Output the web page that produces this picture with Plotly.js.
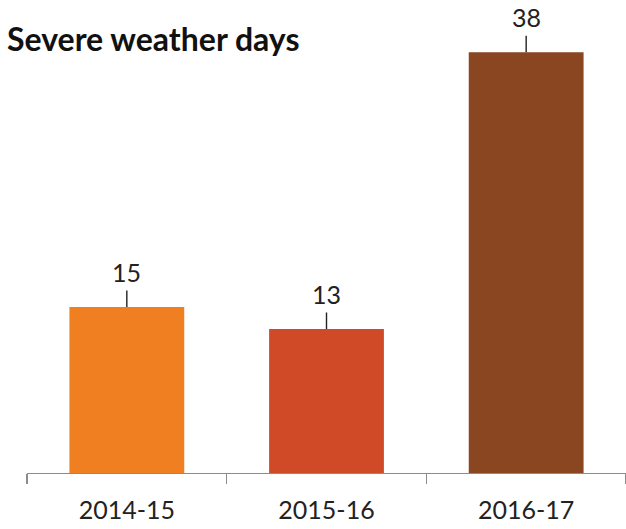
<!DOCTYPE html>
<html>
<head>
<meta charset="utf-8">
<script src="https://cdn.plot.ly/plotly-3.0.1.min.js"></script>
<style>html,body{margin:0;padding:0;background:#fff;}#chart{width:626px;height:529px;}</style>
</head>
<body>
<div id="chart"></div>
<script>
const categories = ["2014-15", "2015-16", "2016-17"];
const values = [15, 13, 38];
const barColors = ["#F07F22", "#D04A27", "#8A4521"];
const chartTitle = "Severe weather days";

const trace = {
  type: "bar",
  x: categories,
  y: values,
  marker: {color: barColors, line: {width: 0}},
  hoverinfo: "none"
};

const annotations = categories.map((c, i) => ({
  x: c, y: values[i], xref: "x", yref: "y",
  text: String(values[i]),
  showarrow: true, arrowhead: 0, arrowwidth: 1.4, arrowcolor: "#222",
  ax: 0, ay: -35, standoff: 0, borderpad: 3,
  font: {family: "Lato, 'Open Sans', sans-serif", size: 25, color: "#222"}
}));
annotations.push({
  xref: "paper", yref: "paper", x: -0.037, y: 0.98, xanchor: "left", yanchor: "middle",
  text: "<b>" + chartTitle + "</b>", showarrow: false,
  font: {family: "Lato, 'Open Sans', sans-serif", size: 32, color: "#111"}
});

const layout = {
  width: 626, height: 529,
  margin: {l: 27, r: 0, t: 30, b: 56},
  paper_bgcolor: "#fff", plot_bgcolor: "#fff",
  showlegend: false,
  bargap: 0.425,
  xaxis: {
    showline: true, linecolor: "#8c8c8c", linewidth: 1.3,
    ticks: "outside", tickson: "boundaries", ticklen: 10, tickcolor: "#8c8c8c", tickwidth: 1.3,
    ticklabelstandoff: 15,
    tickfont: {family: "Lato, 'Open Sans', sans-serif", size: 25, color: "#222"},
    showgrid: false, zeroline: false, fixedrange: true
  },
  yaxis: {
    range: [0, 40], visible: false, showgrid: false, zeroline: false, fixedrange: true
  },
  annotations: annotations
};

Plotly.newPlot("chart", [trace], layout, {displayModeBar: false, staticPlot: true});
</script>
</body>
</html>
